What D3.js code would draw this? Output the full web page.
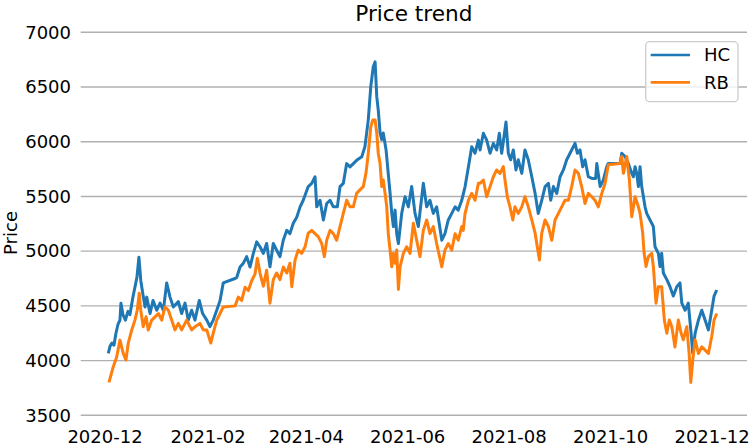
<!DOCTYPE html>
<html><head><meta charset="utf-8">
<script src="https://cdn.jsdelivr.net/npm/d3@7"></script>
<style>body{margin:0;background:#fff}svg{display:block}text{font-family:"DejaVu Sans",sans-serif;fill:#000}</style>
</head><body><svg id="c" width="750" height="447"></svg>
<script>
const title = "Price trend";
const yLabel = "Price";
const seriesNames = ["HC", "RB"];
const seriesColors = ["#1f77b4", "#ff7f0e"];
const startDate = "2020-12-01";
const tickDates = ["2020-12-01","2021-02-01","2021-04-01","2021-06-01","2021-08-01","2021-10-01","2021-12-01"];
const tickLabels = ["2020-12","2021-02","2021-04","2021-06","2021-08","2021-10","2021-12"];
const yTicks = [3500,4000,4500,5000,5500,6000,6500,7000];

// days since startDate
const hcDay = [2.3,3.3,4.5,5.7,6.9,8.1,9.3,9.9,11.1,12.6,14.1,15.3,17.1,18.3,19.5,20.7,21.8,23.0,24.4,25.4,27.4,29.2,31.4,33.4,35.4,37.4,39.4,41.4,44.4,46.4,48.4,50.4,52.4,54.4,57.0,59.0,61.5,63.4,65.4,67.5,69.5,71.4,78.5,79.5,81.5,83.5,85.5,87.5,89.5,91.5,93.5,95.5,97.5,99.5,101.5,103.5,105.5,107.5,109.6,111.5,113.5,115.6,117.6,119.5,122.5,124.6,126.6,127.6,129.6,131.6,133.6,135.6,137.6,140.0,141.6,143.6,145.6,147.6,149.6,151.6,154.7,156.6,158.6,160.1,161.6,162.7,163.7,164.6,165.7,166.7,167.6,169.3,170.6,171.7,172.7,173.7,174.7,175.7,176.7,178.7,180.7,182.7,184.7,186.7,188.7,191.7,193.7,195.7,197.7,199.7,202.8,204.7,206.7,208.8,210.8,212.7,214.8,216.8,218.8,220.8,222.8,224.8,225.8,227.8,229.8,231.8,233.8,235.8,237.4,238.8,240.2,241.4,242.8,244.2,245.8,247.4,248.8,250.9,252.8,254.8,256.9,258.9,260.8,262.9,264.9,266.9,268.3,269.9,271.9,273.9,275.9,277.9,279.9,281.9,282.9,284.3,285.9,287.5,288.9,290.9,293.1,295.3,296.0,298.0,299.9,302.0,302.8,310.0,311.0,313.0,315.0,317.0,318.0,319.0,320.0,321.0,322.0,323.0,325.0,326.0,328.0,330.0,331.0,333.0,334.0,335.0,336.0,338.1,340.0,342.0,344.1,346.0,347.1,349.1,351.0,352.5,353.7,355.1,357.1,359.1,361.1,363.1,365.1,366.5,368.1];
const hcPrice = [4066,4130,4160,4140,4250,4330,4370,4525,4420,4370,4450,4420,4580,4670,4760,4945,4735,4615,4490,4580,4430,4550,4460,4525,4460,4710,4580,4490,4540,4430,4525,4370,4460,4370,4550,4430,4370,4310,4370,4460,4550,4710,4750,4760,4855,4890,4950,4855,4980,5085,5040,4980,5070,4857,5070,5010,4950,5100,5190,5160,5255,5310,5405,5465,5590,5620,5680,5405,5465,5285,5435,5465,5405,5405,5590,5620,5800,5770,5800,5830,5863,5955,6200,6503,6685,6730,6412,6290,6080,6020,6080,5925,5711,5530,5348,5225,5375,5160,5070,5345,5497,5405,5590,5345,5225,5620,5405,5465,5345,5405,5100,5160,5285,5345,5405,5375,5465,5590,5770,5955,5895,6015,5925,6077,6015,5895,5985,5925,6077,5895,6045,6180,5895,5835,5925,5742,5835,5711,5925,5835,5680,5528,5345,5465,5590,5620,5465,5590,5528,5680,5742,5835,5895,5955,5985,5895,5925,5772,5835,5680,5665,5665,5800,5590,5650,5772,5800,5800,5895,5865,5800,5711,5680,5772,5711,5590,5772,5590,5405,5345,5285,5225,5040,4980,4860,4980,4800,4740,4675,4590,4675,4710,4525,4460,4525,4280,4065,4250,4370,4460,4370,4280,4460,4590,4645];

const rbDay = [2.7,3.6,5.3,7.3,9.3,11.3,12.9,14.3,16.4,18.3,19.7,20.9,21.8,23.3,25.0,26.3,28.4,30.4,32.4,34.4,36.4,38.4,40.4,42.4,44.4,46.4,49.4,52.4,54.4,57.4,59.4,61.5,63.9,65.4,67.5,69.5,71.4,78.5,80.5,82.5,84.5,86.5,88.5,90.5,91.9,93.5,95.5,97.5,99.5,101.5,103.5,105.5,107.5,109.6,111.5,112.6,114.6,116.5,118.6,120.6,122.5,124.6,126.6,128.6,130.6,132.2,133.6,135.6,137.6,139.6,141.6,143.6,145.6,147.6,149.6,151.6,153.6,155.6,157.2,158.6,160.1,161.3,162.7,163.7,164.6,165.7,166.7,167.6,168.7,169.7,170.6,171.7,172.7,173.7,174.7,175.7,176.7,177.7,179.7,181.7,183.7,185.7,187.7,189.7,191.7,193.7,195.7,197.7,199.7,202.8,204.7,206.7,208.8,210.8,212.7,213.8,214.8,215.7,216.8,218.8,220.8,222.8,224.8,225.8,227.8,229.8,231.8,233.8,235.8,237.8,239.8,240.8,242.2,243.8,245.5,246.8,248.8,250.9,252.8,254.8,256.9,258.9,260.2,261.5,262.9,264.9,266.9,268.9,270.9,272.9,274.9,276.9,278.9,280.9,282.9,284.9,286.9,288.9,290.9,293.0,294.9,296.9,299.0,301.0,302.9,310.0,311.0,312.0,314.0,315.6,317.0,319.0,321.0,322.0,323.6,324.4,325.6,327.0,329.0,330.0,331.6,333.0,335.0,336.6,338.1,339.6,341.1,343.0,345.0,346.7,348.0,350.1,351.5,352.5,353.7,355.1,357.1,359.1,361.1,363.1,365.1,366.5,368.1];
const rbPrice = [3800,3852,3944,4030,4187,4065,4005,4160,4280,4370,4460,4615,4460,4310,4400,4280,4370,4400,4430,4370,4490,4460,4370,4280,4340,4280,4370,4280,4310,4340,4280,4280,4160,4250,4370,4430,4490,4500,4580,4550,4670,4640,4730,4790,4935,4800,4680,4825,4525,4740,4800,4740,4855,4800,4890,4675,4920,5010,4980,5040,5165,5190,5160,5130,5070,4950,5100,5190,5160,5100,5225,5345,5465,5405,5405,5528,5560,5590,5711,5895,6137,6198,6198,6080,5895,5800,5590,5650,5528,5405,5165,5010,4857,4980,4890,5010,4650,4857,4980,5040,4980,5255,5100,4950,5190,5285,5160,5225,5070,4857,5010,5070,5010,5160,5100,5165,5225,5190,5345,5465,5528,5465,5620,5620,5650,5497,5590,5680,5742,5711,5772,5650,5497,5405,5285,5405,5345,5405,5497,5405,5285,5165,5040,4920,5165,5285,5225,5100,5285,5345,5405,5465,5465,5590,5742,5711,5590,5435,5528,5497,5465,5405,5528,5620,5790,5800,5865,5711,5865,5650,5315,5497,5405,5345,5165,4985,4860,4950,4980,4860,4525,4675,4675,4370,4250,4370,4310,4125,4370,4250,4190,4310,4065,3800,4005,4190,4065,4125,4095,4065,4220,4370,4430];

const svg = d3.select("#c");
const DAY = 864e5;
const base = d3.utcParse("%Y-%m-%d")(startDate).getTime();
const toDate = d => new Date(base + d * DAY);
const left = 80.7, right = 747;
const x = d3.scaleUtc().domain([toDate(-14.3), toDate(386.3)]).range([left, right]);
const y = d3.scaleLinear().domain([3500, 7000]).range([415.3, 32.3]);

// grid
svg.append("g").selectAll("line").data(yTicks).join("line")
  .attr("x1", left).attr("x2", right)
  .attr("y1", d => y(d)).attr("y2", d => y(d))
  .attr("stroke", "#b0b0b0").attr("stroke-width", 1.4);

// y axis
const ya = svg.append("g").attr("transform", `translate(${left},0)`)
  .call(d3.axisLeft(y).tickValues(yTicks).tickSize(0).tickPadding(9.7).tickFormat(d3.format("d")));
ya.select(".domain").remove();
ya.selectAll("text").attr("font-size", 18).attr("font-family", "DejaVu Sans").attr("fill", "#000");

// x axis
const parse = d3.utcParse("%Y-%m-%d");
const xa = svg.append("g").attr("transform", `translate(0,415.3)`)
  .call(d3.axisBottom(x).tickValues(tickDates.map(parse)).tickSize(0).tickPadding(14.6)
    .tickFormat((d, i) => tickLabels[i]));
xa.select(".domain").remove();
xa.selectAll("text").attr("font-size", 18).attr("font-family", "DejaVu Sans").attr("fill", "#000");

// lines
const line = d3.line().x(d => x(toDate(d[0]))).y(d => y(d[1]));
const series = [d3.zip(hcDay, hcPrice), d3.zip(rbDay, rbPrice)];
series.forEach((s, i) => {
  svg.append("path").datum(s).attr("d", line)
    .attr("fill", "none").attr("stroke", seriesColors[i])
    .attr("stroke-width", 3).attr("stroke-linejoin", "round").attr("stroke-linecap", "butt");
});

// title
svg.append("text").attr("x", (left + right) / 2).attr("y", 21)
  .attr("text-anchor", "middle").attr("font-size", 21.6).text(title);

// y label
svg.append("text").attr("transform", "translate(16.5,233) rotate(-90)")
  .attr("text-anchor", "middle").attr("font-size", 18).text(yLabel);

// legend
const lg = svg.append("g");
lg.append("rect").attr("x", 645.7).attr("y", 41.7).attr("width", 92.3).attr("height", 60)
  .attr("rx", 4).attr("fill", "#fff").attr("fill-opacity", 0.8)
  .attr("stroke", "#cccccc").attr("stroke-width", 1.3);
seriesNames.forEach((n, i) => {
  const yy = 55 + i * 27.3;
  lg.append("line").attr("x1", 650.7).attr("x2", 690).attr("y1", yy).attr("y2", yy)
    .attr("stroke", seriesColors[i]).attr("stroke-width", 2.7);
  lg.append("text").attr("x", 704).attr("y", yy).attr("dy", "0.36em")
    .attr("font-size", 18).text(n);
});
</script></body></html>
